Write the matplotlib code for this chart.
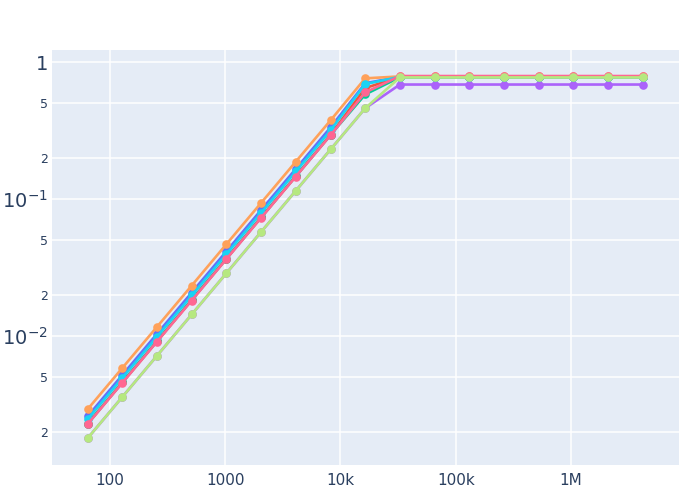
import matplotlib
matplotlib.use("Agg")
import matplotlib.pyplot as plt
from matplotlib.ticker import FixedLocator, NullLocator

x = [64, 128, 256, 512, 1024, 2048, 4096, 8192, 16384, 32768, 65536,
     131072, 262144, 524288, 1048576, 2097152, 4194304]

blue = [0.0026, 0.0052, 0.0104, 0.0208, 0.0416, 0.0832, 0.166, 0.333, 0.70,
        0.78, 0.78, 0.78, 0.78, 0.78, 0.78, 0.78, 0.78]
red = [0.0023, 0.0046, 0.0092, 0.0184, 0.0368, 0.0736, 0.147, 0.294, 0.645,
       0.78, 0.78, 0.78, 0.78, 0.78, 0.78, 0.78, 0.78]
green = [0.0023, 0.0046, 0.0092, 0.0184, 0.0368, 0.0736, 0.147, 0.294, 0.58,
         0.775, 0.775, 0.775, 0.775, 0.775, 0.775, 0.775, 0.775]
purple = [0.0018, 0.0036, 0.0072, 0.0144, 0.0288, 0.0576, 0.115, 0.23, 0.46,
          0.685, 0.685, 0.685, 0.685, 0.685, 0.685, 0.685, 0.685]
orange = [0.00293, 0.00586, 0.0117, 0.0234, 0.0469, 0.0938, 0.1875, 0.375, 0.76,
          0.785, 0.785, 0.785, 0.785, 0.785, 0.785, 0.785, 0.785]
cyan = [0.00248, 0.00496, 0.00992, 0.0198, 0.0397, 0.0794, 0.159, 0.317, 0.69,
        0.78, 0.78, 0.78, 0.78, 0.78, 0.78, 0.78, 0.78]
pink = [0.00228, 0.00456, 0.00912, 0.0182, 0.0365, 0.073, 0.146, 0.292, 0.60,
        0.79, 0.79, 0.79, 0.79, 0.79, 0.79, 0.79, 0.79]
lime = [0.0018, 0.0036, 0.0072, 0.0144, 0.0288, 0.0576, 0.115, 0.23, 0.46,
        0.772, 0.772, 0.772, 0.772, 0.772, 0.772, 0.772, 0.772]

series = [blue, red, green, purple, orange, cyan, pink, lime]
colors = ["#636efa", "#EF553B", "#00cc96", "#ab63fa", "#FFA15A", "#19d3f3",
          "#FF6692", "#B6E880"]

y_ticks = [1, 0.5, 0.2, 0.1, 0.05, 0.02, 0.01, 0.005, 0.002]
y_labels = ["1", "5", "2", r"$10^{-1}$", "5", "2", r"$10^{-2}$", "5", "2"]
y_major = [True, False, False, True, False, False, True, False, False]
x_ticks = [100, 1000, 10000, 100000, 1000000]
x_labels = ["100", "1000", "10k", "100k", "1M"]

fig = plt.figure(figsize=(6.9, 4.99), dpi=100)
ax = fig.add_axes([52/690, 1 - 465/499, (679-52)/690, (465-50)/499])
ax.set_facecolor("#E5ECF6")
for s in ax.spines.values():
    s.set_visible(False)

for i, (ys, c) in enumerate(zip(series, colors)):
    ax.plot(x, ys, color=c, lw=1.9, marker="o", ms=6.2, mew=0, zorder=3 + i)

ax.set_xscale("log")
ax.set_yscale("log")
ax.set_xlim(10**1.497, 10**6.937)
ax.set_ylim(10**-2.94, 10**0.0876)

ax.xaxis.set_major_locator(FixedLocator(x_ticks))
ax.xaxis.set_minor_locator(NullLocator())
ax.set_xticklabels(x_labels)
ax.yaxis.set_major_locator(FixedLocator(y_ticks))
ax.yaxis.set_minor_locator(NullLocator())
ax.set_yticklabels(y_labels)

ax.grid(True, color="white", lw=1.1, zorder=0)
ax.set_axisbelow(True)
ax.tick_params(axis="both", length=0, colors="#2a3f5f")
ax.tick_params(axis="x", labelsize=11, pad=6)
ax.tick_params(axis="y", pad=3)
for lab, major in zip(ax.get_yticklabels(), y_major):
    lab.set_fontsize(14 if major else 9)
    lab.set_color("#2a3f5f")
for lab in ax.get_xticklabels():
    lab.set_color("#2a3f5f")

fig.savefig("out.png", dpi=100)
